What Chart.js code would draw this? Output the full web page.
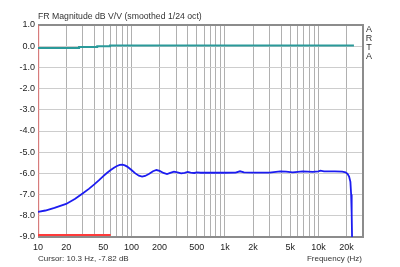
<!DOCTYPE html>
<html>
<head>
<meta charset="utf-8">
<script src="https://cdn.jsdelivr.net/npm/chart.js@4/dist/chart.umd.min.js"></script>
<style>
  body { margin: 0; background: #fff; }
</style>
</head>
<body>
<canvas id="fr" width="400" height="267"></canvas>
<script>
// ---- data ----
const respFreq = [10, 12, 15, 20, 25, 30, 35, 40, 45, 50, 55, 60, 65, 70, 75, 80, 85, 90, 100,
  110, 120, 130, 140, 155, 170, 185, 200, 220, 240, 260, 285, 310, 340, 370, 400, 430, 470, 500,
  550, 600, 700, 800, 1000, 1300, 1450, 1600, 2000, 3000, 3900, 4500, 5300, 6800, 8700, 10000,
  10500, 11500, 13000, 15000, 18000, 19500, 20500, 21300, 22000, 22400, 22700, 23000];
const respDb = [-7.82, -7.75, -7.63, -7.44, -7.2, -6.95, -6.73, -6.52, -6.32, -6.13, -5.97, -5.84,
  -5.73, -5.65, -5.6, -5.59, -5.62, -5.68, -5.84, -6.0, -6.11, -6.15, -6.12, -6.02, -5.9, -5.84,
  -5.88, -5.98, -6.03, -5.98, -5.92, -5.95, -6.0, -5.97, -5.93, -5.96, -5.98, -5.95, -5.97, -5.96,
  -5.97, -5.96, -5.97, -5.96, -5.9, -5.95, -5.96, -5.96, -5.9, -5.92, -5.95, -5.9, -5.93, -5.9,
  -5.87, -5.9, -5.9, -5.9, -5.92, -5.95, -6.02, -6.15, -6.4, -7.0, -7.9, -9.5];

// reference (teal) trace, stepped
const refFreq = [10, 27.5, 43, 59, 24000];
const refDb = [-0.08, -0.04, 0.0, 0.03, 0.03];

// red range markers
const markVFreq = [10, 10];
const markVDb = [1.0, -9.0];
const markHFreq = [10, 60];
const markHDb = [-8.9, -8.9];

const xLabelValues = [10, 20, 50, 100, 200, 500, 1000, 2000, 5000, 10000, 20000];
const xLabelText = ['10', '20', '50', '100', '200', '500', '1k', '2k', '5k', '10k', '20k'];

const titleText = 'FR Magnitude dB V/V (smoothed 1/24 oct)';
const cursorText = 'Cursor: 10.3 Hz, -7.82 dB';
const xAxisTitle = 'Frequency (Hz)';
const brand = ['A', 'R', 'T', 'A'];

const toPts = (xs, ys) => xs.map((x, i) => ({ x: x, y: ys[i] }));

// grid lines at 1..9 x each decade, up to 20k
const gridFreqs = [];
for (let d = 10; d <= 10000; d *= 10) {
  for (let m = 1; m <= 9; m++) {
    if (d * m <= 20000) gridFreqs.push(d * m);
  }
}

Chart.defaults.font.family = '"Liberation Sans", Arial, sans-serif';
Chart.defaults.font.size = 9;
Chart.defaults.color = '#222';

// frame + texts
const artaDecor = {
  id: 'artaDecor',
  beforeDatasetsDraw(chart) {
    const { ctx, chartArea: a } = chart;
    ctx.save();
    ctx.strokeStyle = '#8c8c8c';
    ctx.lineWidth = 2;
    ctx.beginPath();
    ctx.moveTo(a.left, a.top);
    ctx.lineTo(a.right, a.top);
    ctx.lineTo(a.right, a.bottom);
    ctx.lineTo(a.left, a.bottom);
    ctx.stroke();
    ctx.restore();
  },
  afterDraw(chart) {
    const { ctx, chartArea: a } = chart;
    ctx.save();
    ctx.fillStyle = '#333';
    ctx.textBaseline = 'middle';
    ctx.textAlign = 'left';
    ctx.font = '8.7px "Liberation Sans", Arial, sans-serif';
    ctx.fillText(titleText, a.left, 17);
    ctx.font = '8px "Liberation Sans", Arial, sans-serif';
    ctx.fillText(cursorText, a.left, 259);
    ctx.textAlign = 'right';
    ctx.fillText(xAxisTitle, a.right - 1, 259);
    ctx.font = '9px "Liberation Sans", Arial, sans-serif';
    ctx.textAlign = 'center';
    brand.forEach((ch, i) => ctx.fillText(ch, 369, 30 + i * 9));
    ctx.restore();
  }
};

new Chart(document.getElementById('fr'), {
  type: 'line',
  data: {
    datasets: [
      {
        data: toPts(refFreq, refDb),
        borderColor: '#2a9a9a',
        borderWidth: 2,
        stepped: true,
        pointRadius: 0
      },
      {
        data: toPts(respFreq, respDb),
        borderColor: '#1c1cf0',
        borderWidth: 1.8,
        pointRadius: 0
      },
      {
        data: toPts(markHFreq, markHDb),
        borderColor: '#ff3b3b',
        borderWidth: 2,
        pointRadius: 0
      },
      {
        data: toPts(markVFreq, markVDb),
        borderColor: 'rgba(240,90,90,0.6)',
        borderWidth: 2.5,
        pointRadius: 0
      }
    ]
  },
  options: {
    responsive: false,
    animation: false,
    parsing: false,
    layout: { padding: { left: 0, top: 25, right: 37, bottom: 0 } },
    plugins: {
      legend: { display: false },
      tooltip: { enabled: false }
    },
    scales: {
      x: {
        type: 'logarithmic',
        min: 10,
        max: 30000,
        afterBuildTicks(scale) {
          scale.ticks = gridFreqs.map(v => ({ value: v }));
        },
        afterFit(scale) { scale.height = 30; },
        ticks: {
          autoSkip: false,
          maxRotation: 0,
          padding: 5,
          callback(v) {
            const i = xLabelValues.indexOf(v);
            return i >= 0 ? xLabelText[i] : '';
          }
        },
        grid: { color: '#b0b0b0', lineWidth: 1, drawTicks: false },
        border: { display: false }
      },
      y: {
        min: -9,
        max: 1,
        afterFit(scale) { scale.width = 38; },
        ticks: {
          stepSize: 1,
          padding: 3,
          callback(v) { return v.toFixed(1); }
        },
        grid: { color: '#cdcdcd', lineWidth: 1, drawTicks: false },
        border: { display: false }
      }
    }
  },
  plugins: [artaDecor]
});
</script>
</body>
</html>
